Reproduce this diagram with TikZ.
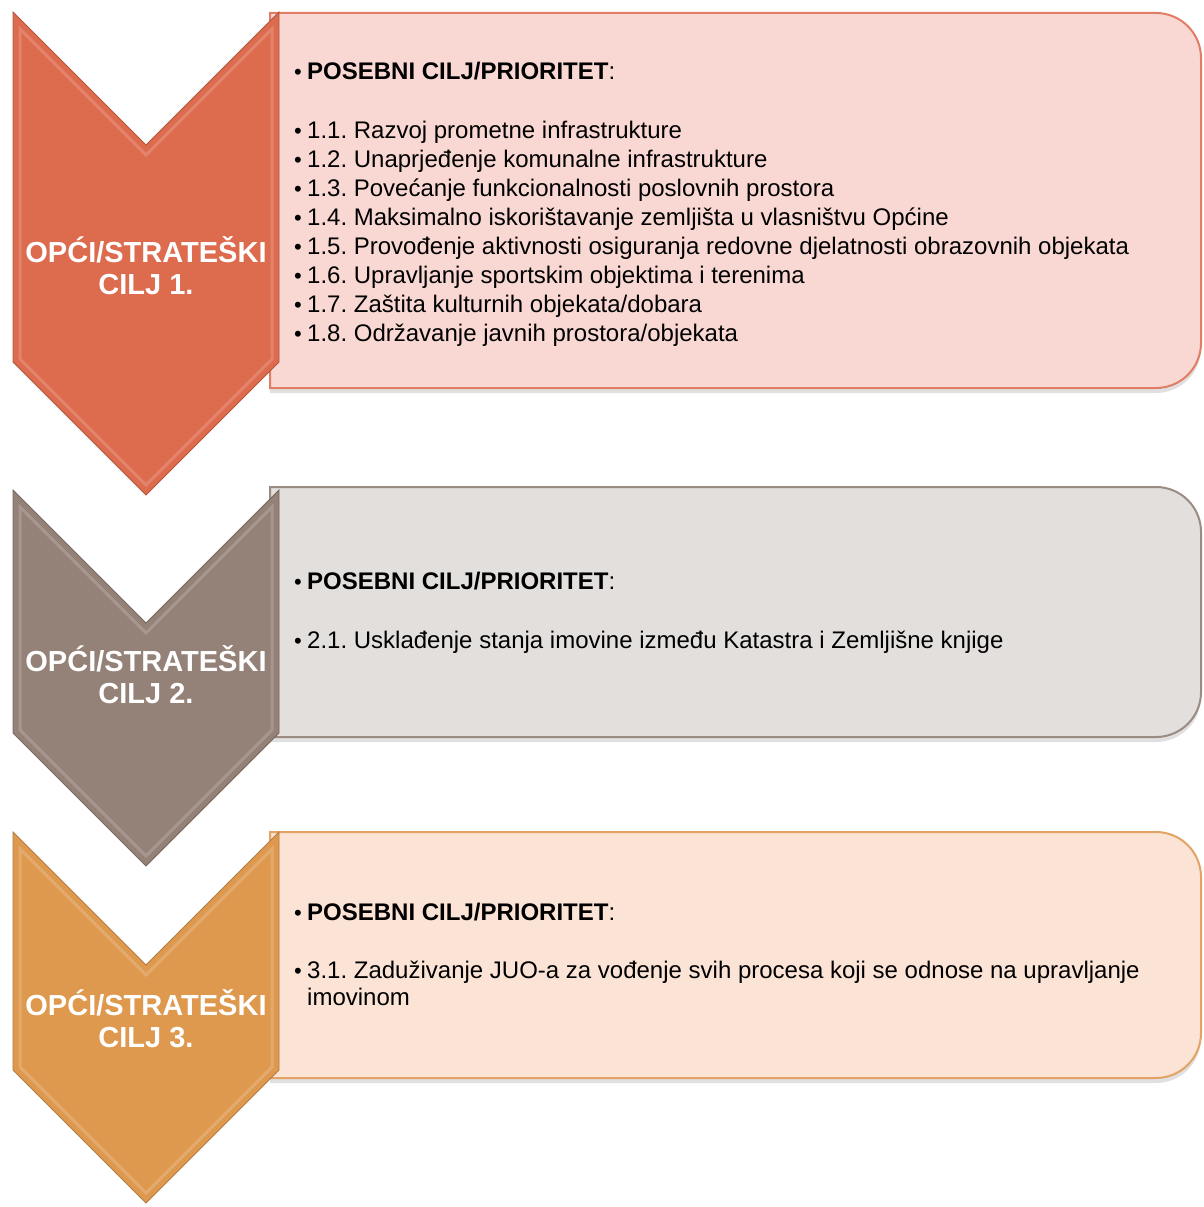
\documentclass[tikz,border=0pt]{standalone}
\usepackage{fontspec}
\setmainfont{Liberation Sans}
\usetikzlibrary{positioning}
\frenchspacing

\definecolor{chevA}{HTML}{DD6B4D}
\definecolor{chevB}{HTML}{948177}
\definecolor{chevC}{HTML}{DE994F}
\definecolor{boxA}{HTML}{F9D8D3}
\definecolor{boxB}{HTML}{E3DFDC}
\definecolor{boxC}{HTML}{FBE3D6}
\definecolor{lineA}{HTML}{E17D65}
\definecolor{lineB}{HTML}{9B8B82}
\definecolor{lineC}{HTML}{E3A365}

\tikzset{
	chevlabel/.style={text=white, font=\fontsize{29}{32}\selectfont\bfseries, align=center, inner sep=0pt, anchor=base},
	itemline/.style={font=\fontsize{24}{29}\selectfont, anchor=base west, inner sep=0pt, align=left},
}
\newcommand{\bul}{\makebox[13pt][l]{\fontsize{22}{22}\selectfont•}}
% box with rounded right corners: fill, border, top, bottom
\newcommand{\goalbox}[4]{%
	\fill[black, opacity=.12] (270,#3+5) -- (1156,#3+5) arc[start angle=-90, end angle=0, radius=45] -- (1201,#4-40) arc[start angle=0, end angle=90, radius=45] -- (270,#4+5) -- cycle;
	\draw[fill=#1, draw=#2, line width=2pt] (270,#3) -- (1156,#3) arc[start angle=-90, end angle=0, radius=45] -- (1201,#4-45) arc[start angle=0, end angle=90, radius=45] -- (270,#4) -- cycle;
}
% chevron: fill, top, bottom of the sides
\newcommand{\goalchev}[3]{%
	\fill[#1] (13,#2) -- (146,#2+133) -- (279,#2) -- (279,#3) -- (146,#3+133) -- (13,#3) -- cycle;
	\draw[#1!50!white, line width=3pt, opacity=.35] (20,#2+17) -- (146,#2+143) -- (272,#2+17) -- (272,#3-3) -- (146,#3+123) -- (20,#3-3) -- cycle;
	\draw[#1!80!black, line width=.8pt] (13,#2) -- (146,#2+133) -- (279,#2) -- (279,#3) -- (146,#3+133) -- (13,#3) -- cycle;
}

\begin{document}
\begin{tikzpicture}[x=1pt, y=-1pt]
	\useasboundingbox (0,0) rectangle (1203,1207);
	% boxes first, chevrons on top
	\goalbox{boxA}{lineA}{13}{388}
	\goalbox{boxB}{lineB}{487}{737}
	\goalbox{boxC}{lineC}{832}{1078}
	\goalchev{chevA}{12}{362}
	\goalchev{chevB}{490}{733}
	\goalchev{chevC}{832}{1070}

	% base of a two-line node is the last line
	\node[chevlabel] (chev1) at (146,294) {OPĆI/STRATEŠKI\\CILJ 1.};
	\node[chevlabel] (chev2) at (146,703) {OPĆI/STRATEŠKI\\CILJ 2.};
	\node[chevlabel] (chev3) at (146,1047) {OPĆI/STRATEŠKI\\CILJ 3.};

	% first goal
	\node[itemline] (hdr1) at (294,79) {\bul\textbf{POSEBNI CILJ/PRIORITET}:};
	\foreach \t [count=\i] in {
		1.1. Razvoj prometne infrastrukture,
		1.2. Unaprjeđenje komunalne infrastrukture,
		1.3. Povećanje funkcionalnosti poslovnih prostora,
		1.4. Maksimalno iskorištavanje zemljišta u vlasništvu Općine,
		1.5. Provođenje aktivnosti osiguranja redovne djelatnosti obrazovnih objekata,
		1.6. Upravljanje sportskim objektima i terenima,
		1.7. Zaštita kulturnih objekata/dobara,
		1.8. Održavanje javnih prostora/objekata}
		\node[itemline] (it1-\i) at (294,{109+29*\i}) {\bul\t};

	% second goal
	\node[itemline] (hdr2) at (294,589) {\bul\textbf{POSEBNI CILJ/PRIORITET}:};
	\node[itemline] (it2-1) at (294,648) {\bul 2.1. Usklađenje stanja imovine između Katastra i Zemljišne knjige};

	% third goal
	\node[itemline] (hdr3) at (294,920) {\bul\textbf{POSEBNI CILJ/PRIORITET}:};
	\node[itemline] (it3-1) at (294,1005) {\bul 3.1. Zaduživanje JUO-a za vođenje svih procesa koji se odnose na upravljanje\\[-2pt]\hspace*{13pt}imovinom};
\end{tikzpicture}
\end{document}
